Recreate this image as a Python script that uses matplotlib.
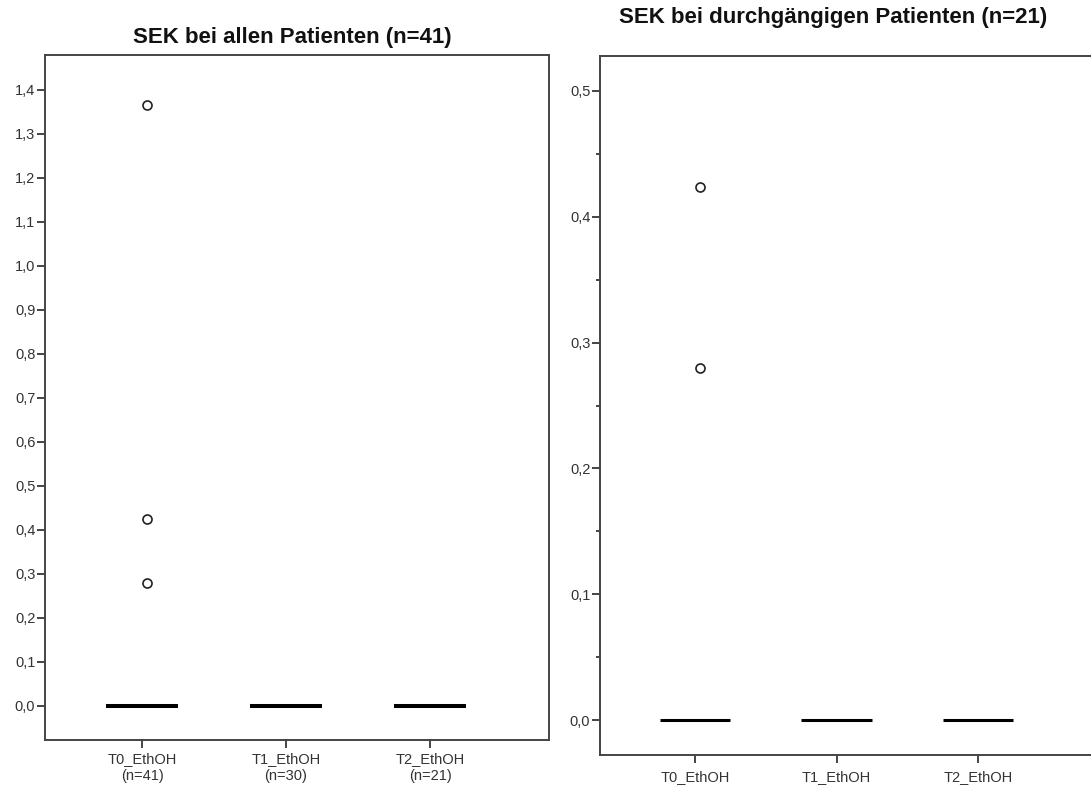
import matplotlib.pyplot as plt
from matplotlib.ticker import FuncFormatter, MultipleLocator

plt.rcParams['font.family'] = ['Liberation Sans', 'DejaVu Sans']

# Werte aus der Abbildung
gruppen_alle = ["T0_EthOH\n(n=41)", "T1_EthOH\n(n=30)", "T2_EthOH\n(n=21)"]
median_alle = [0.0, 0.0, 0.0]
ausreisser_alle = [[1.365, 0.424, 0.280], [], []]

gruppen_durch = ["T0_EthOH", "T1_EthOH", "T2_EthOH"]
median_durch = [0.0, 0.0, 0.0]
ausreisser_durch = [[0.424, 0.280], [], []]

achse_farbe = "#444444"
text_farbe = "#333333"


def komma(v, pos):
    return ("%.1f" % v).replace(".", ",")


def zeichne(ax, gruppen, mediane, ausreisser, lw_med):
    pos = range(1, len(gruppen) + 1)
    for p, m, aus in zip(pos, mediane, ausreisser):
        ax.hlines(m, p - 0.25, p + 0.25, colors="black", linewidth=lw_med, zorder=3)
        if aus:
            ax.plot([p + 0.035] * len(aus), aus, "o", ms=6.5, mfc="white",
                    mec="#222222", mew=1.2, zorder=4)
    ax.set_xticks(list(pos))
    ax.set_xticklabels(gruppen, fontsize=10.3, color=text_farbe, linespacing=1.2)
    ax.yaxis.set_major_formatter(FuncFormatter(komma))
    for s in ax.spines.values():
        s.set_color(achse_farbe)
        s.set_linewidth(1.4)
    ax.tick_params(axis="both", direction="out", length=6, width=1.4,
                   color=achse_farbe, labelsize=10.5, labelcolor=text_farbe, pad=1)
    ax.tick_params(axis="x", pad=3)


fig = plt.figure(figsize=(10.91, 7.87), dpi=100)

ax1 = fig.add_axes([45 / 1091, 1 - 740 / 787, 504 / 1091, 685 / 787])
zeichne(ax1, gruppen_alle, median_alle, ausreisser_alle, 2.9)
ax1.set_xlim(0.326, 3.826)
ax1.set_ylim(-0.0773, 1.4795)
ax1.yaxis.set_major_locator(MultipleLocator(0.1))

ax2 = fig.add_axes([600 / 1091, 1 - 755 / 787, 504 / 1091, 699 / 787])
zeichne(ax2, gruppen_durch, median_durch, ausreisser_durch, 2.2)
ax2.set_xlim(0.329, 3.89)
ax2.set_ylim(-0.0278, 0.5278)
ax2.yaxis.set_major_locator(MultipleLocator(0.1))
ax2.yaxis.set_minor_locator(MultipleLocator(0.05))
ax2.tick_params(axis="y", which="minor", length=3, width=1.4, color=achse_farbe)
ax2.tick_params(axis="x", pad=5)

fig.text(292 / 1091, 1 - 37 / 787, "SEK bei allen Patienten (n=41)",
         ha="center", va="center", fontsize=16, fontweight="bold", color="#111111")
fig.text(833 / 1091, 1 - 17 / 787, "SEK bei durchgängigen Patienten (n=21)",
         ha="center", va="center", fontsize=16, fontweight="bold", color="#111111")

fig.savefig("out.png", dpi=100)
